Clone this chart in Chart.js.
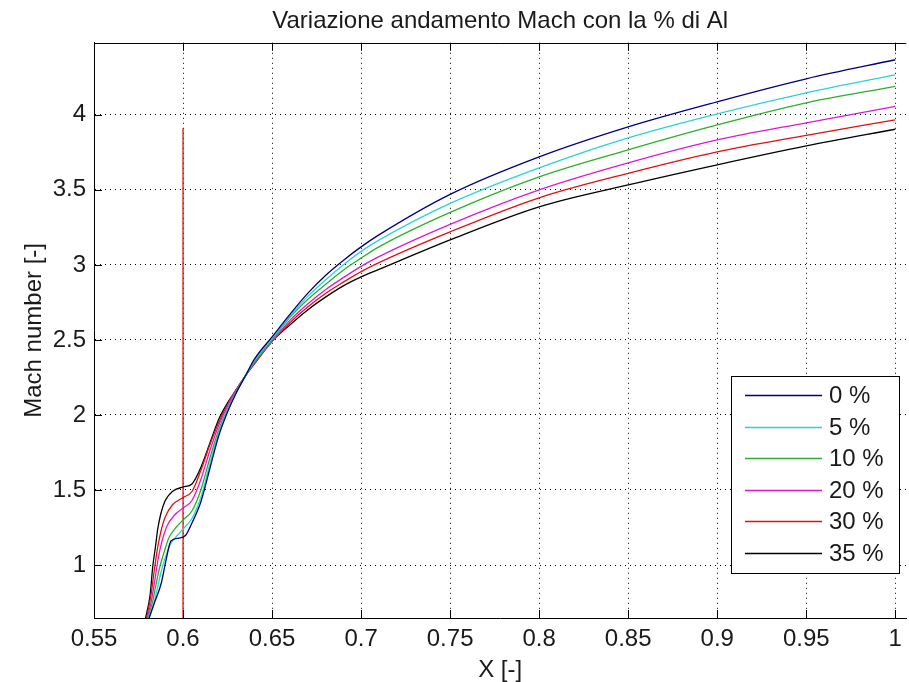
<!DOCTYPE html>
<html>
<head>
<meta charset="utf-8">
<script src="https://cdn.jsdelivr.net/npm/chart.js@4.4.0/dist/chart.umd.min.js"></script>
<style>
  html, body { margin: 0; padding: 0; background: #fff; }
  canvas { display: block; }
</style>
</head>
<body>
<canvas id="machChart" width="909" height="682"></canvas>
<script>
// legend labels, one per % of Al
const seriesLabels = ['0 %', '5 %', '10 %', '20 %', '30 %', '35 %'];

// near the throat every curve has its own x points
const nearX0  = [0.581, 0.584, 0.5878, 0.5904, 0.5932, 0.5978, 0.6016, 0.605, 0.610, 0.615, 0.620, 0.625, 0.630, 0.635, 0.640, 0.650];
const nearY0  = [0.647, 0.75, 0.88, 1.03, 1.16, 1.18, 1.20, 1.28, 1.42, 1.64, 1.86, 2.02, 2.15, 2.26, 2.37, 2.52];
const nearX5  = [0.5806, 0.5835, 0.5857, 0.5878, 0.5903, 0.593, 0.597, 0.600, 0.605, 0.610, 0.615, 0.620, 0.625, 0.630, 0.635, 0.640, 0.650];
const nearY5  = [0.647, 0.74, 0.85, 0.96, 1.06, 1.14, 1.20, 1.24, 1.31, 1.45, 1.67, 1.88, 2.03, 2.15, 2.26, 2.36, 2.51];
const nearX10 = [0.5803, 0.583, 0.585, 0.587, 0.5895, 0.592, 0.596, 0.600, 0.605, 0.610, 0.615, 0.620, 0.625, 0.630, 0.635, 0.640, 0.650];
const nearY10 = [0.647, 0.76, 0.88, 0.99, 1.09, 1.18, 1.25, 1.30, 1.36, 1.50, 1.71, 1.90, 2.04, 2.16, 2.26, 2.35, 2.50];
const nearX20 = [0.580, 0.5825, 0.5843, 0.586, 0.588, 0.591, 0.595, 0.600, 0.605, 0.610, 0.615, 0.620, 0.625, 0.630, 0.635, 0.640, 0.650];
const nearY20 = [0.647, 0.78, 0.91, 1.04, 1.15, 1.26, 1.33, 1.38, 1.43, 1.57, 1.76, 1.93, 2.06, 2.17, 2.26, 2.35, 2.49];
const nearX30 = [0.5795, 0.582, 0.5838, 0.5855, 0.5875, 0.590, 0.594, 0.600, 0.605, 0.610, 0.615, 0.620, 0.625, 0.630, 0.635, 0.640, 0.650];
const nearY30 = [0.647, 0.80, 0.96, 1.10, 1.22, 1.32, 1.40, 1.45, 1.49, 1.63, 1.80, 1.95, 2.07, 2.17, 2.26, 2.34, 2.49];
const nearX35 = [0.579, 0.5815, 0.583, 0.5845, 0.5858, 0.5875, 0.590, 0.594, 0.600, 0.605, 0.610, 0.615, 0.620, 0.625, 0.630, 0.635, 0.640, 0.650];
const nearY35 = [0.647, 0.80, 0.99, 1.12, 1.24, 1.34, 1.43, 1.49, 1.52, 1.54, 1.65, 1.81, 1.97, 2.08, 2.17, 2.26, 2.34, 2.49];

// downstream part, shared x points
const farX   = [0.66, 0.67, 0.68, 0.69, 0.70, 0.71, 0.75, 0.80, 0.85, 0.90, 0.95, 1.00];
const farY0  = [2.67, 2.81, 2.93, 3.03, 3.12, 3.20, 3.47, 3.72, 3.92, 4.087, 4.24, 4.367];
const farY5  = [2.66, 2.79, 2.90, 3.00, 3.09, 3.165, 3.41, 3.647, 3.847, 4.007, 4.147, 4.267];
const farY10 = [2.65, 2.77, 2.87, 2.965, 3.045, 3.12, 3.35, 3.587, 3.767, 3.933, 4.08, 4.189];
const farY20 = [2.63, 2.74, 2.835, 2.915, 2.99, 3.055, 3.27, 3.50, 3.68, 3.833, 3.947, 4.056];
const farY30 = [2.615, 2.72, 2.81, 2.885, 2.955, 3.015, 3.22, 3.447, 3.61, 3.753, 3.863, 3.967];
const farY35 = [2.60, 2.70, 2.785, 2.86, 2.92, 2.97, 3.167, 3.387, 3.533, 3.667, 3.793, 3.904];

// red vertical line at the throat
const throatX = [0.6, 0.6];
const throatY = [0.647, 3.91];

const xTicks = [0.55, 0.6, 0.65, 0.7, 0.75, 0.8, 0.85, 0.9, 0.95, 1];
const xTickLabels = ['0.55', '0.6', '0.65', '0.7', '0.75', '0.8', '0.85', '0.9', '0.95', '1'];
const yTicks = [1, 1.5, 2, 2.5, 3, 3.5, 4];
const yTickLabels = ['1', '1.5', '2', '2.5', '3', '3.5', '4'];

const lineColors = ['#00007f', '#2ad4d4', '#2cb02c', '#d81ad8', '#e01010', '#000000'];
const FONT = '"Liberation Sans", Arial, sans-serif';
const TEXT = '#1a1a1a';
const FS = 24;

function pts(xs, ys) {
  return xs.map((x, i) => ({ x: x, y: ys[i] }));
}

const curves = [
  pts(nearX0, nearY0).concat(pts(farX, farY0)),
  pts(nearX5, nearY5).concat(pts(farX, farY5)),
  pts(nearX10, nearY10).concat(pts(farX, farY10)),
  pts(nearX20, nearY20).concat(pts(farX, farY20)),
  pts(nearX30, nearY30).concat(pts(farX, farY30)),
  pts(nearX35, nearY35).concat(pts(farX, farY35))
];

const datasets = curves.map((data, i) => ({
  label: seriesLabels[i],
  data: data,
  borderColor: lineColors[i],
  borderWidth: 1.3,
  pointRadius: 0,
  cubicInterpolationMode: 'monotone',
  fill: false
}));
datasets.push({
  label: '',
  data: pts(throatX, throatY),
  borderColor: '#e01010',
  borderWidth: 1.3,
  pointRadius: 0,
  fill: false
});

function tickIndex(list, v) {
  return list.findIndex(t => Math.abs(t - v) < 1e-9);
}

// MATLAB style box: top edge and inward tick marks
const matlabFrame = {
  id: 'matlabFrame',
  afterDatasetsDraw(chart) {
    const { ctx, chartArea: a, scales: { x, y } } = chart;
    const len = 8;
    ctx.save();
    ctx.strokeStyle = '#000';
    ctx.lineWidth = 1;
    ctx.beginPath();
    ctx.moveTo(a.left, Math.round(a.top) + 0.5);
    ctx.lineTo(a.right, Math.round(a.top) + 0.5);
    x.ticks.forEach(t => {
      const px = Math.round(x.getPixelForValue(t.value)) + 0.5;
      ctx.moveTo(px, a.bottom);
      ctx.lineTo(px, a.bottom - len);
      ctx.moveTo(px, a.top);
      ctx.lineTo(px, a.top + len);
    });
    y.ticks.forEach(t => {
      const py = Math.round(y.getPixelForValue(t.value)) + 0.5;
      ctx.moveTo(a.left, py);
      ctx.lineTo(a.left + len, py);
    });
    ctx.stroke();
    ctx.restore();
  }
};

// boxed legend inside the axes, bottom right
const boxLegend = {
  id: 'boxLegend',
  afterDraw(chart) {
    const { ctx } = chart;
    const items = chart.data.datasets.filter(d => d.label);
    const left = 731, top = 376, w = 168, h = 197;
    ctx.save();
    ctx.fillStyle = '#fff';
    ctx.fillRect(left, top, w, h);
    ctx.strokeStyle = '#000';
    ctx.lineWidth = 1;
    ctx.strokeRect(left + 0.5, top + 0.5, w, h);
    ctx.font = FS + 'px ' + FONT;
    ctx.textBaseline = 'middle';
    items.forEach((d, i) => {
      const yy = Math.round(top + 19 + i * 31.6) + 0.5;
      ctx.strokeStyle = d.borderColor;
      ctx.lineWidth = 1.3;
      ctx.beginPath();
      ctx.moveTo(left + 14, yy);
      ctx.lineTo(left + 91, yy);
      ctx.stroke();
      ctx.fillStyle = TEXT;
      ctx.fillText(d.label, left + 98, yy + 1);
    });
    ctx.restore();
  }
};

new Chart(document.getElementById('machChart').getContext('2d'), {
  type: 'line',
  data: { datasets: datasets },
  plugins: [matlabFrame, boxLegend],
  options: {
    responsive: false,
    animation: false,
    devicePixelRatio: 1,
    layout: { padding: 0 },
    plugins: {
      legend: { display: false },
      tooltip: { enabled: false },
      title: {
        display: true,
        fullSize: false,
        text: 'Variazione andamento Mach con la % di Al',
        color: TEXT,
        font: { family: FONT, size: FS, weight: 'normal' },
        padding: { top: 7, bottom: 7 }
      }
    },
    scales: {
      x: {
        type: 'linear',
        min: 0.55,
        max: 1.0062,
        afterBuildTicks: s => { s.ticks = xTicks.map(v => ({ value: v })); },
        afterFit: s => { s.height = 64; },
        ticks: {
          autoSkip: false,
          maxRotation: 0,
          padding: 7,
          color: TEXT,
          font: { family: FONT, size: FS },
          callback: v => xTickLabels[tickIndex(xTicks, v)]
        },
        grid: { color: '#000', lineWidth: 1, drawTicks: false },
        border: { display: true, color: '#000', width: 1, dash: [1, 4] },
        title: {
          display: true,
          text: 'X [-]',
          color: TEXT,
          font: { family: FONT, size: FS, lineHeight: 1 },
          padding: { top: 3, bottom: 0 }
        }
      },
      y: {
        type: 'linear',
        min: 0.647,
        max: 4.48,
        afterBuildTicks: s => { s.ticks = yTicks.map(v => ({ value: v })); },
        afterFit: s => { s.width = 94; },
        ticks: {
          autoSkip: false,
          padding: 8,
          color: TEXT,
          font: { family: FONT, size: FS },
          callback: v => yTickLabels[tickIndex(yTicks, v)]
        },
        grid: { color: '#000', lineWidth: 1, drawTicks: false },
        border: { display: true, color: '#000', width: 1, dash: [1, 4] },
        title: {
          display: true,
          text: 'Mach number [-]',
          color: TEXT,
          font: { family: FONT, size: FS },
          padding: { top: 20, bottom: 0 }
        }
      }
    }
  }
});
</script>
</body>
</html>
